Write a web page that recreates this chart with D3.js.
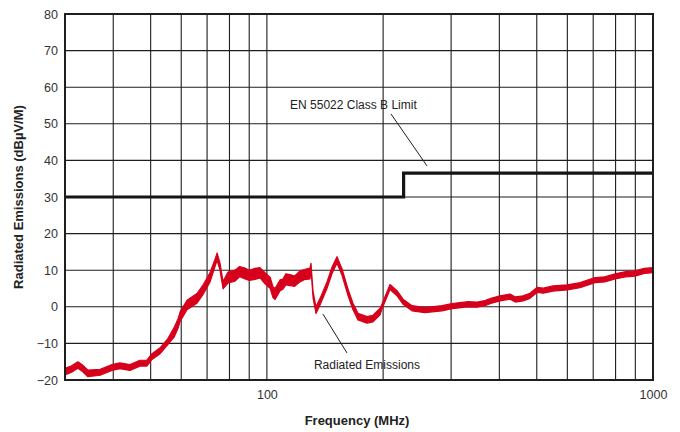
<!DOCTYPE html>
<html>
<head>
<meta charset="utf-8">
<script src="https://cdn.jsdelivr.net/npm/d3@7"></script>
<style>
  html, body { margin: 0; padding: 0; background: #fff; }
  svg { display: block; font-family: "Liberation Sans", Arial, Helvetica, sans-serif; }
</style>
</head>
<body>
<svg id="chart" width="680" height="432"></svg>
<script>
// ---- data ----
const emissionFreq = [30, 31.2, 32.4, 33.3, 34.4, 37.0, 39.7, 41.6, 44.2, 46.9, 48.9, 50.4, 52.9, 55.4,
  57.5, 58.9, 59.6, 62.1, 65.9, 68.3, 71.2, 73.4, 74.3, 75.6, 77.0, 79.3, 82.7, 85, 87.8, 90, 93.2, 96, 98.9,
  102, 103.7, 105, 108.2, 110, 112, 114.8, 118, 121.8, 125, 129.3, 130.1, 131.7, 134.0, 137.3, 143.1, 147.5, 151.9,
  156.5, 162.2, 167.1, 172.2, 181.7, 188.3, 196.4, 198.7, 208.4, 217.3, 225.2, 237.6, 256.7, 284.2,
  301.6, 331.8, 350, 367.2, 380, 401.6, 426.4, 440, 460.7, 480, 500.8, 520, 550.8, 600, 647.2, 707.6, 750, 797.4, 850, 898.4, 950, 1000];
const emissionLevel = [-17.7, -17.0, -15.9, -16.8, -18.2, -17.9, -16.6, -16.1, -16.6, -15.4, -15.4, -13.6, -12.0, -9.5,
  -7.0, -4.5, -2.7, 0.5, 2.3, 4.6, 8.0, 12.0, 13.7, 11.0, 5.9, 8.0, 8.5, 9.6, 9.1, 8.6, 9.0, 9.3, 7.8,
  6.5, 4.0, 3.5, 5.9, 6.2, 7.5, 7.3, 7.0, 8.3, 8.8, 9.1, 11.0, 3.3, -0.9, 1.4, 5.9, 10.0, 12.8,
  9.5, 4.0, 0.1, -2.7, -3.6, -3.2, -1.3, 0.1, 5.4, 3.7, 1.4, -0.4, -0.9, -0.4,
  0.2, 0.7, 0.6, 1.0, 1.6, 2.3, 2.8, 2.0, 2.3, 3.0, 4.6, 4.4, 5.0, 5.3, 5.9, 7.3, 7.5, 8.3, 8.9, 9.1, 9.8, 10.0];
const emissionSpread = [0.9, 0.9, 0.9, 0.9, 0.9, 0.8, 0.8, 0.8, 0.8, 0.8, 0.8, 0.8, 0.8, 0.8,
  1.3, 1.3, 1.3, 1.3, 1.3, 1.3, 1.3, 1.0, 1.0, 1.0, 1.0, 1.5, 1.5, 1.4, 1.5, 1.4, 1.5, 1.4, 1.5,
  1.5, 1.5, 1.5, 1.5, 1.4, 1.5, 1.5, 1.4, 1.5, 1.4, 1.5, 0.9, 0.9, 0.9, 0.9, 0.9, 0.9, 0.9,
  0.9, 0.9, 0.9, 0.9, 0.9, 0.9, 0.9, 0.7, 0.7, 0.7, 0.7, 0.7, 0.7, 0.7,
  0.7, 0.7, 0.7, 0.7, 0.7, 0.7, 0.7, 0.7, 0.7, 0.7, 0.7, 0.7, 0.7, 0.7, 0.7, 0.7, 0.7, 0.7, 0.7, 0.7, 0.7, 0.7];

const limitFreq = [30, 226, 226, 1000];
const limitLevel = [30, 30, 36.5, 36.5];

const yTicks = [-20, -10, 0, 10, 20, 30, 40, 50, 60, 70, 80];
const yTickLabels = ["\u221220", "\u221210", "0", "10", "20", "30", "40", "50", "60", "70", "80"];
const xGridFreq = [40, 50, 60, 70, 80, 90, 100, 200, 300, 400, 500, 600, 700, 800, 900];
const xTicks = [100, 1000];
const xTickLabels = ["100", "1000"];

const xTitle = "Frequency (MHz)";
const yTitle = "Radiated Emissions (dB\u00b5V/M)";
const limitNote = "EN 55022 Class B Limit";
const emissionNote = "Radiated Emissions";

// ---- layout ----
const svg = d3.select("#chart");
const W = 680, H = 432;
const m = { left: 65, right: 27, top: 14, bottom: 52 };
const x = d3.scaleLog().domain([30, 1000]).range([m.left, W - m.right]);
const y = d3.scaleLinear().domain([-20, 80]).range([H - m.bottom, m.top]);

const ink = "#1e1e1e";

// grid
svg.append("g").selectAll("line").data(yTicks.slice(1, -1)).join("line")
  .attr("x1", x(30)).attr("x2", x(1000))
  .attr("y1", d => y(d)).attr("y2", d => y(d))
  .attr("stroke", ink).attr("stroke-width", 1.1);
svg.append("g").selectAll("line").data(xGridFreq).join("line")
  .attr("x1", d => x(d)).attr("x2", d => x(d))
  .attr("y1", y(-20)).attr("y2", y(80))
  .attr("stroke", ink).attr("stroke-width", 1.1);

// emissions band
const pts = emissionFreq.map((f, i) => ({ f, v: emissionLevel[i], s: emissionSpread[i] }));
const area = d3.area().x(d => x(d.f)).y0(d => y(d.v - d.s)).y1(d => y(d.v + d.s));
svg.append("path").datum(pts).attr("d", area)
  .attr("fill", "#d7001c").attr("stroke", "#d7001c").attr("stroke-width", 1.2)
  .attr("stroke-linejoin", "round");

// limit line
const lim = limitFreq.map((f, i) => ({ f, v: limitLevel[i] }));
svg.append("path").datum(lim)
  .attr("d", d3.line().x(d => x(d.f)).y(d => y(d.v)))
  .attr("fill", "none").attr("stroke", "#151515").attr("stroke-width", 3.2);

// frame
svg.append("rect")
  .attr("x", x(30)).attr("y", y(80))
  .attr("width", x(1000) - x(30)).attr("height", y(-20) - y(80))
  .attr("fill", "none").attr("stroke", ink).attr("stroke-width", 2);

// axes labels
const yAxis = d3.axisLeft(y).tickValues(yTicks).tickSize(0).tickPadding(7)
  .tickFormat((d, i) => yTickLabels[i]);
const gy = svg.append("g").attr("transform", `translate(${m.left},0)`).call(yAxis);
gy.select(".domain").remove();
gy.selectAll("text").attr("font-size", 12.5).attr("fill", "#333")
  .attr("font-family", "Liberation Sans, Arial, sans-serif");

const xAxis = d3.axisBottom(x).tickValues(xTicks).tickSize(0).tickPadding(10)
  .tickFormat((d, i) => xTickLabels[i]);
const gx = svg.append("g").attr("transform", `translate(0,${H - m.bottom})`).call(xAxis);
gx.select(".domain").remove();
gx.selectAll("text").attr("font-size", 12.5).attr("fill", "#333")
  .attr("font-family", "Liberation Sans, Arial, sans-serif");

// titles
svg.append("text").attr("x", (x(30) + x(1000)) / 2 - 2).attr("y", 425)
  .attr("text-anchor", "middle").attr("font-weight", "bold").attr("font-size", 13)
  .attr("fill", "#222").text(xTitle);
svg.append("text").attr("transform", `translate(23,${(y(-20) + y(80)) / 2}) rotate(-90)`)
  .attr("text-anchor", "middle").attr("font-weight", "bold").attr("font-size", 13)
  .attr("fill", "#222").text(yTitle);

// annotations
svg.append("text").attr("x", x(114.8)).attr("y", y(54.0))
  .attr("font-size", 12).attr("fill", "#222").text(limitNote);
svg.append("line").attr("x1", x(209.6)).attr("y1", y(52.7)).attr("x2", x(259.8)).attr("y2", y(38.5))
  .attr("stroke", ink).attr("stroke-width", 1);
svg.append("text").attr("x", x(132.4)).attr("y", y(-17.0))
  .attr("font-size", 12).attr("fill", "#222").text(emissionNote);
svg.append("line").attr("x1", x(139.7)).attr("y1", y(-2.0)).attr("x2", x(161.2)).attr("y2", y(-12.6))
  .attr("stroke", ink).attr("stroke-width", 1);
</script>
</body>
</html>
